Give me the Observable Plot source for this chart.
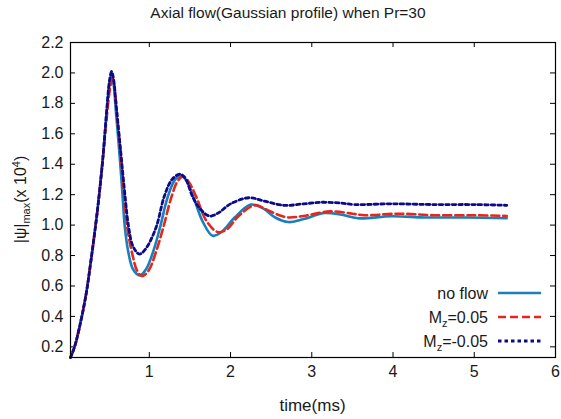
<!DOCTYPE html>
<html><head><meta charset="utf-8">
<script src="https://cdn.jsdelivr.net/npm/d3@7"></script>
<script src="https://cdn.jsdelivr.net/npm/@observablehq/plot@0.6"></script>
<style>body{margin:0;background:#fff}</style>
</head><body><div id="chart"></div>
<script>
// ---- data ----
const tNoFlow   = [0.03,0.08,0.137,0.22,0.28,0.36,0.425,0.475,0.51,0.536,0.56,0.59,0.64,0.67,0.70,0.75,0.80,0.88,0.96,1.05,1.13,1.23,1.32,1.40,1.47,1.54,1.66,1.78,1.90,2.05,2.25,2.40,2.55,2.71,2.90,3.16,3.35,3.57,3.98,4.40,4.90,5.40];
const psiNoFlow = [0.13,0.20,0.32,0.54,0.76,1.09,1.42,1.74,1.93,1.99,1.93,1.74,1.42,1.20,0.98,0.80,0.71,0.67,0.71,0.83,0.98,1.19,1.30,1.325,1.28,1.19,1.02,0.93,0.96,1.05,1.135,1.11,1.05,1.02,1.04,1.08,1.07,1.045,1.058,1.05,1.05,1.045];

const tPos   = [0.03,0.08,0.137,0.22,0.28,0.36,0.425,0.48,0.52,0.546,0.57,0.60,0.655,0.69,0.73,0.795,0.85,0.91,0.99,1.08,1.17,1.27,1.35,1.42,1.49,1.575,1.70,1.84,1.95,2.10,2.30,2.45,2.60,2.71,2.90,3.22,3.50,3.65,4.07,4.50,5.00,5.40];
const psiPos = [0.13,0.20,0.32,0.54,0.76,1.09,1.42,1.73,1.91,1.96,1.91,1.74,1.42,1.20,0.98,0.80,0.70,0.665,0.70,0.82,0.98,1.18,1.29,1.32,1.28,1.19,1.03,0.955,0.97,1.06,1.13,1.10,1.065,1.05,1.06,1.09,1.075,1.065,1.075,1.065,1.065,1.06];

const tNeg   = [0.03,0.08,0.137,0.22,0.28,0.36,0.425,0.475,0.51,0.536,0.56,0.59,0.645,0.70,0.745,0.80,0.877,0.95,1.08,1.185,1.28,1.38,1.45,1.53,1.62,1.74,1.85,2.00,2.23,2.40,2.66,2.90,3.12,3.35,3.53,3.98,4.50,5.00,5.40];
const psiNeg = [0.13,0.20,0.32,0.54,0.76,1.09,1.42,1.75,1.95,2.01,1.96,1.80,1.50,1.20,0.99,0.86,0.81,0.84,0.98,1.19,1.30,1.335,1.30,1.19,1.11,1.06,1.08,1.14,1.18,1.16,1.13,1.14,1.15,1.145,1.135,1.14,1.135,1.135,1.13];

const seriesNames = ["no flow", "Mz=0.05", "Mz=-0.05"];
const xTicks = [1, 2, 3, 4, 5, 6];
const yTicks = [0.2, 0.4, 0.6, 0.8, 1.0, 1.2, 1.4, 1.6, 1.8, 2.0, 2.2];

// ---- layout / style ----
const W = 561, H = 419, mt = 42, mb = 62, ml = 70, mr = 6;
const fw = W - ml - mr, fh = H - mt - mb;
const styles = [
  {stroke: "#1a7fbb", dash: null, width: 2.6},
  {stroke: "#e4261c", dash: "8,4", width: 2.6},
  {stroke: "#0a0a8a", dash: "3.5,3", width: 2.8}
];
const tArr = [tNoFlow, tPos, tNeg], vArr = [psiNoFlow, psiPos, psiNeg];
const rows = tArr.map((ts, i) => ts.map((t, j) => ({t, v: vArr[i][j], s: seriesNames[i]})));

const svg = Plot.plot({
  width: W, height: H, marginTop: mt, marginBottom: mb, marginLeft: ml, marginRight: mr,
  style: {fontFamily: "'Liberation Sans', Arial, sans-serif", fontSize: "16px", color: "#1a1a1a", background: "white", overflow: "visible"},
  x: {domain: [0.03, 6]},
  y: {domain: [0.13, 2.2]},
  marks: [
    Plot.axisX({ticks: xTicks, tickSize: 0, tickPadding: 8, tickFormat: d3.format("d"), label: null, fontSize: 16}),
    Plot.axisY({ticks: yTicks, tickSize: 0, tickPadding: 7, tickFormat: d3.format(".1f"), label: null, fontSize: 16}),
    Plot.tickX(xTicks, {x: d => d, insetTop: fh - 5, stroke: "black"}),
    Plot.tickX(xTicks, {x: d => d, insetBottom: fh - 5, stroke: "black"}),
    Plot.tickY(yTicks, {y: d => d, insetRight: fw - 5, stroke: "black"}),
    Plot.tickY(yTicks, {y: d => d, insetLeft: fw - 5, stroke: "black"}),
    ...rows.map((r, i) => Plot.line(r, {x: "t", y: "v", stroke: styles[i].stroke, strokeWidth: styles[i].width,
      strokeDasharray: styles[i].dash, curve: "catmull-rom"})),
    Plot.frame({stroke: "black", strokeWidth: 1.2})
  ]
});
document.getElementById("chart").appendChild(svg);

const g = d3.select(svg).append("g")
  .attr("font-family", "'Liberation Sans', Arial, sans-serif").attr("fill", "#1a1a1a");

// title
g.append("text").attr("x", 288).attr("y", 18).attr("text-anchor", "middle")
  .attr("font-size", 15.5).text("Axial flow(Gaussian profile) when Pr=30");
// x label
g.append("text").attr("x", (ml + W - mr) / 2).attr("y", 411).attr("text-anchor", "middle")
  .attr("font-size", 17).text("time(ms)");
// y label
const yl = g.append("text").attr("transform", `translate(26,${(mt + H - mb) / 2}) rotate(-90)`)
  .attr("text-anchor", "middle").attr("font-size", 16);
yl.append("tspan").text("|ψ|");
yl.append("tspan").attr("font-size", 11).attr("dy", 4).text("max");
yl.append("tspan").attr("dy", -4).text("(x 10");
yl.append("tspan").attr("font-size", 11).attr("dy", -6).text("4");
yl.append("tspan").attr("dy", 6).text(")");

// legend
const legY = [293, 317, 341];
seriesNames.forEach((name, i) => {
  const tx = g.append("text").attr("x", 488).attr("y", legY[i] + 5.5).attr("text-anchor", "end").attr("font-size", 16);
  if (i === 0) tx.text(name);
  else {
    tx.append("tspan").text("M");
    tx.append("tspan").attr("font-size", 11).attr("dy", 4).text("z");
    tx.append("tspan").attr("dy", -4).text(name.slice(2));
  }
  g.append("line").attr("x1", 498).attr("x2", 541).attr("y1", legY[i]).attr("y2", legY[i])
    .attr("stroke", styles[i].stroke).attr("stroke-width", styles[i].width)
    .attr("stroke-dasharray", styles[i].dash);
});
</script>
</body></html>
